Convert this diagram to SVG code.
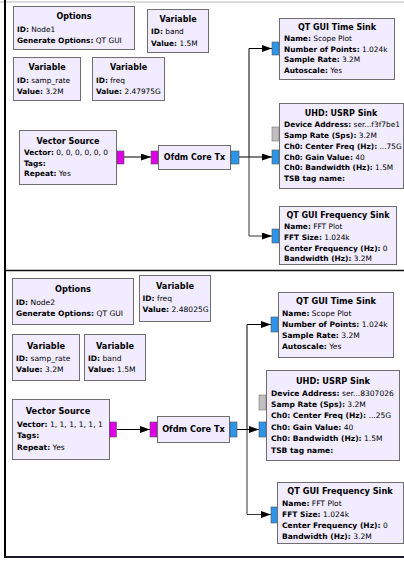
<svg xmlns="http://www.w3.org/2000/svg" width="404" height="562" viewBox="0 0 404 562">
<defs>
<marker id="ah" markerUnits="userSpaceOnUse" markerWidth="11" markerHeight="8" refX="10" refY="3.5" orient="auto">
<path d="M0,0 L10,3.5 L0,7 z" fill="#000"/>
</marker>
<style>
.blk{fill:#F1ECFF;stroke:#6e6e6e;stroke-width:1}
.t{font-family:"DejaVu Sans",sans-serif;font-size:8px;fill:#000;font-weight:bold;text-anchor:middle}
.l{font-family:"DejaVu Sans",sans-serif;font-size:7.4px;fill:#000}
.lb{font-family:"DejaVu Sans",sans-serif;font-size:7.55px;fill:#000}
.tb{font-family:"DejaVu Sans",sans-serif;font-size:8.2px;fill:#000;font-weight:bold;text-anchor:middle}
.k{font-weight:bold}
.pm{fill:#DD00E6;stroke:#555;stroke-width:0.6}
.pc{fill:#2C95EA;stroke:#555;stroke-width:0.6}
.pg{fill:#BFBFBF;stroke:#777;stroke-width:0.6}
.c{fill:none;stroke:#000;stroke-width:1}
.cg{fill:none;stroke:#333;stroke-width:1}
</style>
</defs>
<rect x="0" y="0" width="404" height="562" fill="#fff"/>
<g id="frame">
<line x1="0" y1="2" x2="404" y2="2" stroke="#d0d0d0" stroke-width="1.5"/>
<line x1="5" y1="0" x2="5" y2="558" stroke="#000" stroke-width="2"/>
<line x1="5" y1="270.5" x2="404" y2="270.5" stroke="#111" stroke-width="1.5"/>
<line x1="5" y1="557" x2="404" y2="557" stroke="#1a1a2a" stroke-width="2"/>
</g>
<g id="connectors">
<line class="c" x1="124" y1="157" x2="151" y2="157" marker-end="url(#ah)"/>
<line class="c" x1="239" y1="157" x2="272" y2="157" marker-end="url(#ah)"/>
<path class="c" d="M249,157 V48.5 H272" marker-end="url(#ah)"/>
<path class="cg" d="M249,157 V236 H272" marker-end="url(#ah)"/>
<line class="c" x1="117" y1="429.5" x2="150" y2="429.5" marker-end="url(#ah)"/>
<line class="c" x1="237" y1="429.5" x2="259" y2="429.5" marker-end="url(#ah)"/>
<path class="c" d="M247,429.5 V324.5 H271" marker-end="url(#ah)"/>
<path class="cg" d="M247,429.5 V514.5 H271" marker-end="url(#ah)"/>
</g>
<g id="options1">
<rect class="blk" x="13.5" y="6.5" width="121" height="43"/>
<text class="t" x="74" y="19">Options</text>
<text class="l" x="17" y="32"><tspan class="k">ID:</tspan> Node1</text>
<text class="l" x="17" y="43"><tspan class="k">Generate Options:</tspan> QT GUI</text>
</g>
<g id="var_band1">
<rect class="blk" x="147.5" y="9.5" width="61" height="43"/>
<text class="t" x="178" y="22">Variable</text>
<text class="l" x="151" y="34"><tspan class="k">ID:</tspan> band</text>
<text class="l" x="151" y="46"><tspan class="k">Value:</tspan> 1.5M</text>
</g>
<g id="var_samp1">
<rect class="blk" x="13.5" y="57.5" width="67" height="43"/>
<text class="t" x="47" y="70">Variable</text>
<text class="l" x="17" y="83"><tspan class="k">ID:</tspan> samp_rate</text>
<text class="l" x="17" y="94"><tspan class="k">Value:</tspan> 3.2M</text>
</g>
<g id="var_freq1">
<rect class="blk" x="92.5" y="57.5" width="72" height="43"/>
<text class="t" x="128.5" y="70">Variable</text>
<text class="l" x="96" y="83"><tspan class="k">ID:</tspan> freq</text>
<text class="l" x="96" y="94"><tspan class="k">Value:</tspan> 2.47975G</text>
</g>
<g id="vecsrc1">
<rect class="blk" x="19.5" y="130.5" width="97" height="54"/>
<text class="t" x="68" y="144">Vector Source</text>
<text class="l" x="24" y="155"><tspan class="k">Vector:</tspan> 0, 0, 0, 0, 0, 0</text>
<text class="l" x="24" y="166"><tspan class="k">Tags:</tspan></text>
<text class="l" x="24" y="176"><tspan class="k">Repeat:</tspan> Yes</text>
<rect class="pm" x="117" y="151" width="7" height="13"/>
</g>
<g id="ofdm1">
<rect class="pm" x="151" y="151" width="7" height="13"/>
<rect class="blk" x="158.5" y="145.5" width="72" height="24"/>
<text class="t" x="194.5" y="160">Ofdm Core Tx</text>
<rect class="pc" x="231" y="151" width="8" height="13"/>
</g>
<g id="timesink1">
<rect class="pc" x="272" y="42" width="7" height="13"/>
<rect class="blk" x="279.5" y="18.5" width="115" height="61"/>
<text class="t" x="337" y="30">QT GUI Time Sink</text>
<text class="l" x="284" y="41"><tspan class="k">Name:</tspan> Scope Plot</text>
<text class="l" x="284" y="52"><tspan class="k">Number of Points:</tspan> 1.024k</text>
<text class="l" x="284" y="62"><tspan class="k">Sample Rate:</tspan> 3.2M</text>
<text class="l" x="284" y="73"><tspan class="k">Autoscale:</tspan> Yes</text>
</g>
<g id="usrp1">
<rect class="pg" x="272" y="127" width="7" height="14"/>
<rect class="pc" x="272" y="150" width="7" height="14"/>
<rect class="blk" x="279.5" y="103.5" width="124" height="85"/>
<text class="t" x="341" y="116">UHD: USRP Sink</text>
<text class="l" x="284" y="127"><tspan class="k">Device Address:</tspan> ser...f3f7be1</text>
<text class="l" x="284" y="138"><tspan class="k">Samp Rate (Sps):</tspan> 3.2M</text>
<text class="l" x="284" y="149"><tspan class="k">Ch0: Center Freq (Hz):</tspan> ...75G</text>
<text class="l" x="284" y="160"><tspan class="k">Ch0: Gain Value:</tspan> 40</text>
<text class="l" x="284" y="170"><tspan class="k">Ch0: Bandwidth (Hz):</tspan> 1.5M</text>
<text class="l" x="284" y="181"><tspan class="k">TSB tag name:</tspan></text>
</g>
<g id="freqsink1">
<rect class="pc" x="272" y="229" width="7" height="14"/>
<rect class="blk" x="279.5" y="206.5" width="117" height="58"/>
<text class="t" x="338" y="218">QT GUI Frequency Sink</text>
<text class="l" x="284" y="229"><tspan class="k">Name:</tspan> FFT Plot</text>
<text class="l" x="284" y="240"><tspan class="k">FFT Size:</tspan> 1.024k</text>
<text class="l" x="284" y="251"><tspan class="k">Center Frequency (Hz):</tspan> 0</text>
<text class="l" x="284" y="261"><tspan class="k">Bandwidth (Hz):</tspan> 3.2M</text>
</g>
<g id="options2">
<rect class="blk" x="12.5" y="278.5" width="121" height="46"/>
<text class="tb" x="73" y="292">Options</text>
<text class="lb" x="16" y="305"><tspan class="k">ID:</tspan> Node2</text>
<text class="lb" x="16" y="316"><tspan class="k">Generate Options:</tspan> QT GUI</text>
</g>
<g id="var_freq2">
<rect class="blk" x="139.5" y="275.5" width="71" height="46"/>
<text class="tb" x="175" y="289">Variable</text>
<text class="lb" x="142.5" y="301"><tspan class="k">ID:</tspan> freq</text>
<text class="lb" x="142.5" y="312"><tspan class="k">Value:</tspan> 2.48025G</text>
</g>
<g id="var_samp2">
<rect class="blk" x="12.5" y="334.5" width="67" height="46"/>
<text class="tb" x="46" y="349">Variable</text>
<text class="lb" x="16" y="361"><tspan class="k">ID:</tspan> samp_rate</text>
<text class="lb" x="16" y="372"><tspan class="k">Value:</tspan> 3.2M</text>
</g>
<g id="var_band2">
<rect class="blk" x="84.5" y="334.5" width="61" height="46"/>
<text class="tb" x="115" y="349">Variable</text>
<text class="lb" x="88" y="361"><tspan class="k">ID:</tspan> band</text>
<text class="lb" x="88" y="372"><tspan class="k">Value:</tspan> 1.5M</text>
</g>
<g id="vecsrc2">
<rect class="blk" x="12.5" y="399.5" width="97" height="60"/>
<text class="tb" x="58" y="414">Vector Source</text>
<text class="lb" x="17" y="427"><tspan class="k">Vector:</tspan> 1, 1, 1, 1, 1, 1</text>
<text class="lb" x="17" y="438"><tspan class="k">Tags:</tspan></text>
<text class="lb" x="17" y="450"><tspan class="k">Repeat:</tspan> Yes</text>
<rect class="pm" x="109.5" y="422" width="7" height="15"/>
</g>
<g id="ofdm2">
<rect class="pm" x="150" y="422" width="7" height="15"/>
<rect class="blk" x="157.5" y="416.5" width="72" height="26"/>
<text class="tb" x="193.5" y="432">Ofdm Core Tx</text>
<rect class="pc" x="230" y="422" width="7" height="15"/>
</g>
<g id="timesink2">
<rect class="pc" x="271" y="317" width="7" height="15"/>
<rect class="blk" x="278.5" y="292.5" width="115" height="65"/>
<text class="tb" x="336" y="304">QT GUI Time Sink</text>
<text class="lb" x="282" y="316"><tspan class="k">Name:</tspan> Scope Plot</text>
<text class="lb" x="282" y="327"><tspan class="k">Number of Points:</tspan> 1.024k</text>
<text class="lb" x="282" y="338"><tspan class="k">Sample Rate:</tspan> 3.2M</text>
<text class="lb" x="282" y="349"><tspan class="k">Autoscale:</tspan> Yes</text>
</g>
<g id="usrp2">
<rect class="pg" x="259" y="395" width="7" height="15"/>
<rect class="pc" x="259" y="422" width="7" height="15"/>
<rect class="blk" x="266.5" y="370.5" width="133" height="90"/>
<text class="tb" x="333" y="384">UHD: USRP Sink</text>
<text class="lb" x="271" y="396"><tspan class="k">Device Address:</tspan> ser...8307026</text>
<text class="lb" x="271" y="407"><tspan class="k">Samp Rate (Sps):</tspan> 3.2M</text>
<text class="lb" x="271" y="418"><tspan class="k">Ch0: Center Freq (Hz):</tspan> ...25G</text>
<text class="lb" x="271" y="430"><tspan class="k">Ch0: Gain Value:</tspan> 40</text>
<text class="lb" x="271" y="441"><tspan class="k">Ch0: Bandwidth (Hz):</tspan> 1.5M</text>
<text class="lb" x="271" y="453"><tspan class="k">TSB tag name:</tspan></text>
</g>
<g id="freqsink2">
<rect class="pc" x="271" y="507" width="6.5" height="16"/>
<rect class="blk" x="277.5" y="482.5" width="126" height="61"/>
<text class="tb" x="340" y="494">QT GUI Frequency Sink</text>
<text class="lb" x="282" y="506"><tspan class="k">Name:</tspan> FFT Plot</text>
<text class="lb" x="282" y="517"><tspan class="k">FFT Size:</tspan> 1.024k</text>
<text class="lb" x="282" y="528"><tspan class="k">Center Frequency (Hz):</tspan> 0</text>
<text class="lb" x="282" y="539"><tspan class="k">Bandwidth (Hz):</tspan> 3.2M</text>
</g>
</svg>
